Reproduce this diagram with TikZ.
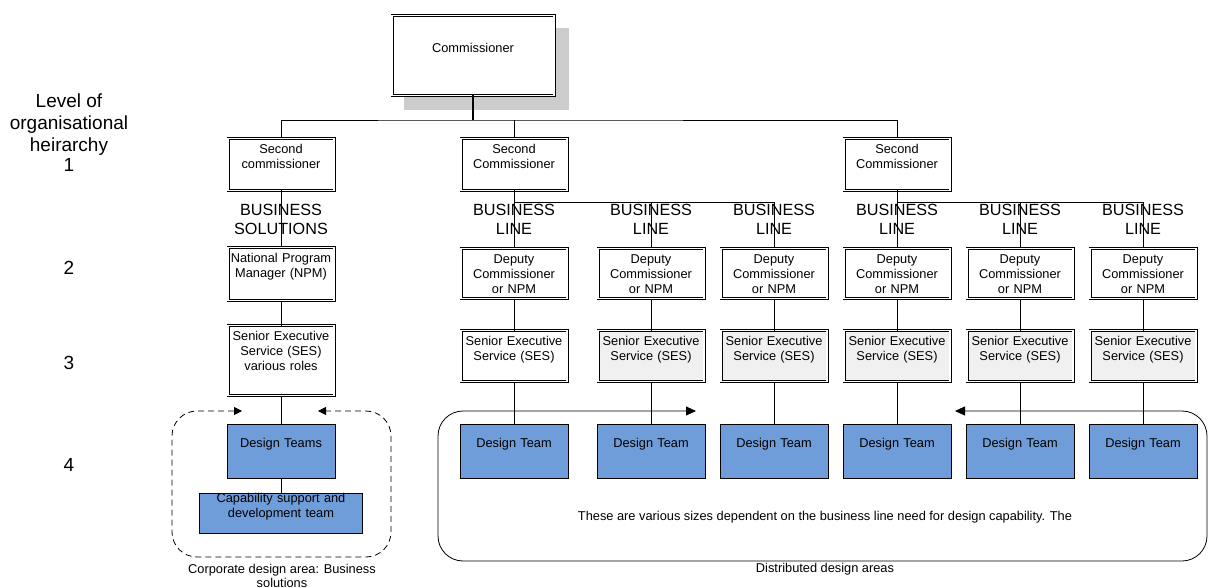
\documentclass[tikz,border=0pt]{standalone}
\usepackage{fontspec}
\setmainfont{Liberation Sans}
\usetikzlibrary{arrows.meta}
\definecolor{teamblue}{RGB}{111,157,217}
\definecolor{sesgrey}{RGB}{240,240,240}
\definecolor{shadowgrey}{RGB}{204,204,204}

\begin{document}
\begin{tikzpicture}[x=1pt,y=-1pt,every node/.style={inner sep=3pt, outer sep=0pt},
  post/.style={draw, double, line width=0.6pt, double distance=1.8pt, fill=white, anchor=north, align=center, inner xsep=1pt, text width=104pt, text height=12pt, font=\fontsize{12.8}{15}\selectfont},
  team/.style={draw, line width=0.8pt, fill=teamblue, anchor=north, align=center, text width=102.2pt, text height=20pt, text depth=28.2pt, font=\fontsize{12.8}{15}\selectfont},
  unit/.style={align=center, font=\fontsize{16.2}{19}\selectfont},
  lvl/.style={align=center, font=\fontsize{19}{22}\selectfont},
  note/.style={align=center, font=\fontsize{12.8}{14}\selectfont},
  link/.style={line width=0.8pt}]
\useasboundingbox (0,0) rectangle (1208,588);

% levels
\node[lvl] (lvl) at (69,125) {Level of\\organisational\\heirarchy};
\node[lvl] (lv1) at (69,165) {1};
\node[lvl] (lv2) at (69,268) {2};
\node[lvl] (lv3) at (69,363) {3};
\node[lvl] (lv4) at (69,465) {4};

% top
\fill[shadowgrey] (404,28) rectangle (569,110);
\node[post, text width=160pt, text height=34pt, text depth=40pt] (chief) at (473,15.5) {Commissioner};
\node[post, text depth=34pt] (sc1) at (281,138.5) {Second\\commissioner};
\node[post, text depth=34pt] (sc2) at (514,138.5) {Second\\Commissioner};
\node[post, text depth=34pt] (sc3) at (897,138.5) {Second\\Commissioner};
\coordinate (hub) at (473,120);
\coordinate (busL) at (514,202);
\coordinate (busR) at (897,202);
\draw[link, line width=1.2pt] (chief.south) -- (hub);
\draw[link] (sc1.north) |- (hub) -| (sc3.north);
\draw[link] (sc2.north) -- (sc2.north |- hub);

% business solutions
\node[unit] (bs) at (281,219.5) {BUSINESS\\SOLUTIONS};
\node[post, text depth=35pt] (npm) at (281,247.5) {National Program\\Manager (NPM)};
\node[post, text depth=52pt] (ses0) at (281,325.5) {Senior Executive\\Service (SES)\\various roles};
\draw[link, dashed, dash pattern=on 6pt off 4pt, rounded corners=25pt, {Triangle[length=8pt,width=8pt]}-{Triangle[length=8pt,width=8pt]}] (242,411) -- (172,411) -- (172,557) -- (391,557) -- (391,411) -- (318,411);
\node[team] (dt0) at (281,424.4) {Design Teams};
\node[team, text width=157.2pt, text height=6pt] (cap) at (281,493.4) {Capability support and\\development team};
\draw[link] (sc1.south) -- (npm.north);
\draw[link] (npm.south) -- (ses0.north);
\draw[link] (ses0.south) -- (dt0.north);
\draw[link] (dt0.south) -- (cap.north);
\node[note] (corpl) at (282,576) {Corporate design area: Business\\solutions};

% business lines
\draw[link, rounded corners=25pt, {Triangle[length=10pt,width=9pt]}-{Triangle[length=10pt,width=9pt]}] (696,411) -- (438,411) -- (438,561) -- (1207,561) -- (1207,411) -- (955,411);
\foreach \i/\x/\tone in {1/514/white,2/651/sesgrey,3/774/sesgrey,4/897/sesgrey,5/1020/sesgrey,6/1143/sesgrey} {
  \node[unit] (bl\i) at (\x,219.5) {BUSINESS\\LINE};
  \node[post, text depth=32pt] (dep\i) at (\x,248.5) {Deputy\\Commissioner\\or NPM};
  \node[post, text depth=33pt, fill=\tone] (ses\i) at (\x,330.5) {Senior Executive\\Service (SES)};
  \node[team] (dt\i) at (\x,424.4) {Design Team};
  \draw[link] (dep\i.south) -- (ses\i.north);
  \draw[link] (ses\i.south) -- (dt\i.north);
}
\draw[link] (sc2.south) -- (dep1.north);
\draw[link] (busL) -| (dep2.north);
\draw[link] (busL) -| (dep3.north);
\draw[link] (sc3.south) -- (dep4.north);
\draw[link] (busR) -| (dep5.north);
\draw[link] (busR) -| (dep6.north);
\node[note] (desc) at (825,517) {These are various sizes dependent on the business line need for design capability. The};
\node[note] (distl) at (825,569) {Distributed design areas};
\end{tikzpicture}
\end{document}
